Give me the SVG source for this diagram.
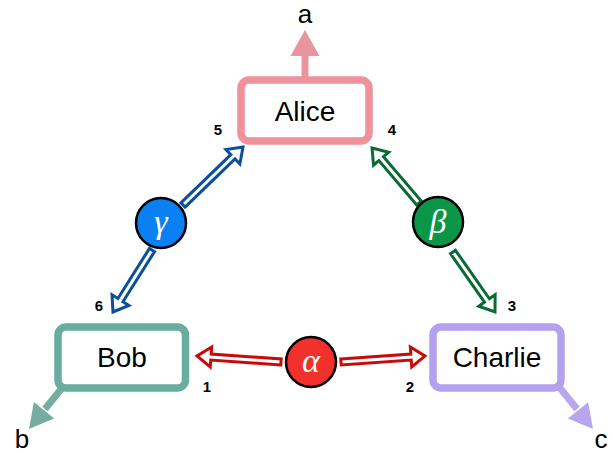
<svg xmlns="http://www.w3.org/2000/svg" width="613" height="453" viewBox="0 0 613 453">
  <style>
    .box { fill: #ffffff; stroke-width: 7.5; }
    .name { font-family: "Liberation Sans", Arial, sans-serif; font-size: 28px; fill: #000; text-anchor: middle; }
    .out { font-family: "Liberation Sans", Arial, sans-serif; font-size: 26px; fill: #000; text-anchor: middle; }
    .num { font-family: "Liberation Sans", Arial, sans-serif; font-size: 15px; font-weight: bold; fill: #000; text-anchor: middle; }
    .hub { stroke: #000; stroke-width: 2.5; }
    .greek { font-family: "Liberation Serif", "DejaVu Serif", serif; font-style: italic; font-size: 34px; fill: #fff; text-anchor: middle; }
    .dbl { fill: #fff; stroke-width: 3; stroke-linejoin: miter; }
  </style>

  <!-- connectors -->
  <g id="connectors">
    <!-- output arrows -->
    <g id="out-a" fill="#e8959e" stroke="#e8959e">
      <line x1="305" y1="77" x2="305" y2="54" stroke-width="7"/>
      <polygon points="305,30 319.5,56 290.5,56" stroke="none"/>
    </g>
    <g id="out-b" fill="#77ada1" stroke="#77ada1">
      <line x1="62" y1="388" x2="45" y2="409" stroke-width="7"/>
      <polygon points="29,429 54.2,418.4 33.9,402.1" stroke="none"/>
    </g>
    <g id="out-c" fill="#b8a6ee" stroke="#b8a6ee">
      <line x1="560" y1="388" x2="577" y2="409" stroke-width="7"/>
      <polygon points="593,429 588.1,402.15 567.85,418.45" stroke="none"/>
    </g>

    <!-- double arrows from alpha -->
    <g stroke="#c80a0a" class="dbl">
      <path transform="translate(281,362) rotate(184.09)" d="M0,-3 H70.2 V-10 L84.2,0 L70.2,10 V3 H0 Z"/>
      <path transform="translate(341,362) rotate(-4.09)" d="M0,-3 H70.2 V-10 L84.2,0 L70.2,10 V3 H0 Z"/>
    </g>
    <!-- double arrows from gamma -->
    <g stroke="#0a4f9c" class="dbl">
      <path transform="translate(183,205) rotate(-44)" d="M0,-3 H69.4 V-10 L83.4,0 L69.4,10 V3 H0 Z"/>
      <path transform="translate(152,250) rotate(122.2)" d="M0,-3 H59.2 V-10 L73.2,0 L59.2,10 V3 H0 Z"/>
    </g>
    <!-- double arrows from beta -->
    <g stroke="#0a6a35" class="dbl">
      <path transform="translate(419,203) rotate(-130.5)" d="M0,-3 H58.3 V-10 L72.3,0 L58.3,10 V3 H0 Z"/>
      <path transform="translate(453,252) rotate(55)" d="M0,-3 H59.2 V-10 L73.2,0 L59.2,10 V3 H0 Z"/>
    </g>
  </g>

  <!-- nodes -->
  <g id="alice">
    <rect class="box" x="241" y="80" width="128" height="61" rx="8" stroke="#f0919b"/>
    <text class="name" x="305" y="121">Alice</text>
  </g>
  <g id="bob">
    <rect class="box" x="58" y="327" width="127.5" height="61" rx="8" stroke="#68ad9e"/>
    <text class="name" x="122" y="367">Bob</text>
  </g>
  <g id="charlie">
    <rect class="box" x="433" y="327" width="128" height="61" rx="8" stroke="#b4a1ee"/>
    <text class="name" x="497" y="367">Charlie</text>
  </g>

  <g id="alpha">
    <circle class="hub" cx="311" cy="362" r="25" fill="#f2302c"/>
    <text class="greek" x="311" y="372">α</text>
  </g>
  <g id="gamma">
    <circle class="hub" cx="161" cy="223" r="25" fill="#0a80f5"/>
    <text class="greek" x="161" y="233">γ</text>
  </g>
  <g id="beta">
    <circle class="hub" cx="438" cy="222" r="25" fill="#0a9646"/>
    <text class="greek" x="438" y="233">β</text>
  </g>

  <!-- output labels -->
  <g id="labels">
    <text class="out" x="305" y="23">a</text>
    <text class="out" x="22" y="448">b</text>
    <text class="out" x="601" y="448">c</text>
    <text class="num" x="207" y="392">1</text>
    <text class="num" x="410" y="392">2</text>
    <text class="num" x="512" y="311">3</text>
    <text class="num" x="392" y="135">4</text>
    <text class="num" x="218" y="135">5</text>
    <text class="num" x="99" y="311">6</text>
  </g>
</svg>
